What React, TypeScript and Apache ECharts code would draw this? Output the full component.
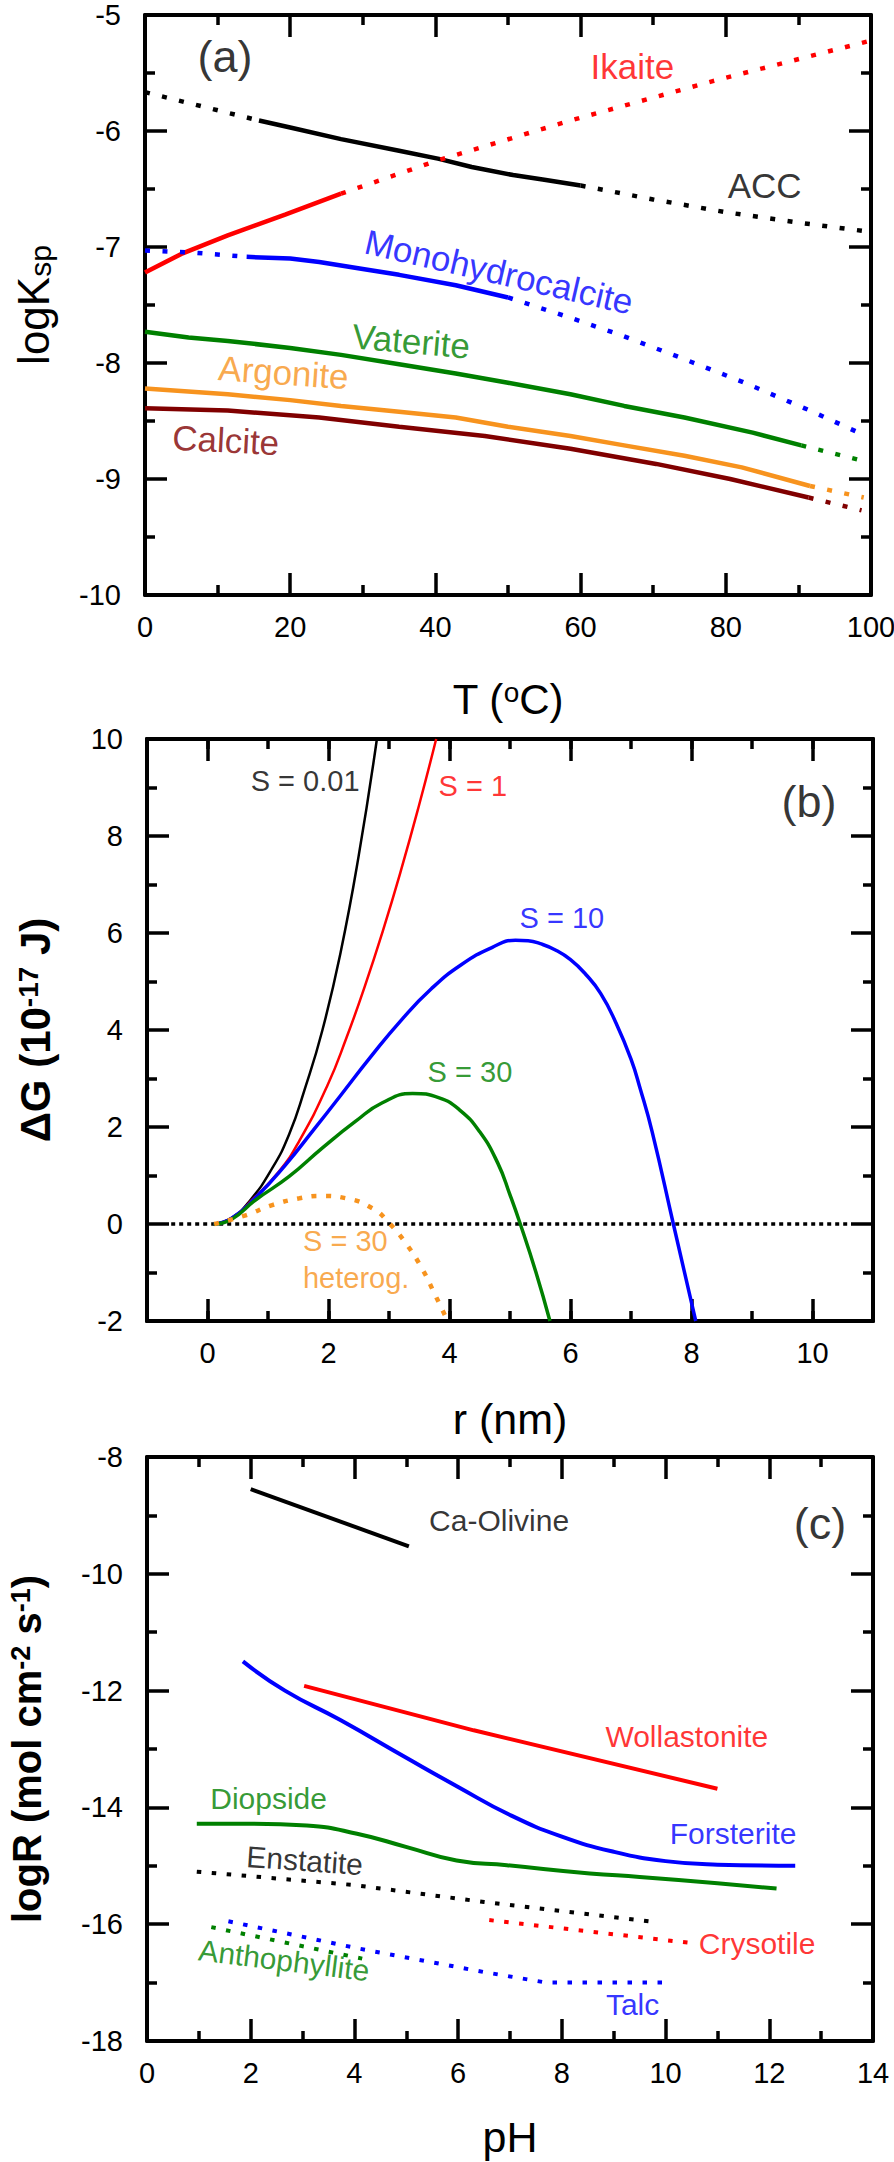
import React, { useEffect, useRef } from "react";
import * as echarts from "echarts";

const FONT = "'Liberation Sans', Arial, Helvetica, sans-serif";
const BLACK = "#000000";
const RED = "#ff0000";
const BLUE = "#0000ff";
const GREEN = "#008000";
const ORANGE = "#f7931e";
const MAROON = "#800000";

// ---------- Panel (a): logKsp vs T (°C) ----------
const aTicksX = [0, 100, 20];
const aTicksY = [-10, -5, 1];
const accDotA = [[0, -5.665], [15.7, -5.91]];
const accSolid = [[15.7, -5.91], [20, -5.97], [27, -6.07], [35, -6.17], [40.5, -6.24], [45, -6.31], [50.7, -6.38], [55, -6.42], [60, -6.47]];
const accDotB = [[60, -6.47], [70, -6.59], [80, -6.7], [90, -6.79], [100, -6.87]];
const ikaiteSolid = [[0, -7.22], [5, -7.06], [11.4, -6.9], [19.3, -6.72], [27, -6.54]];
const ikaiteDot = [[27, -6.54], [40.5, -6.25], [58.6, -5.91], [78.2, -5.57], [100, -5.22]];
const monoDotA = [[0, -7.03], [7, -7.05], [14, -7.085]];
const monoSolid = [[14, -7.085], [20, -7.1], [24, -7.13], [30, -7.19], [35, -7.24], [42.8, -7.33], [50, -7.435]];
const monoDotB = [[50, -7.435], [58.6, -7.61], [66, -7.77], [74, -7.96], [82.2, -8.16], [91.6, -8.41], [99, -8.62]];
const vateriteSolid = [[0, -7.73], [6, -7.78], [11.4, -7.81], [20, -7.87], [27, -7.93], [35, -8.01], [42.8, -8.09], [50, -8.17], [58.6, -8.27], [66, -8.37], [74.3, -8.47], [83.7, -8.6], [90.4, -8.71]];
const vateriteDot = [[90.4, -8.71], [98.7, -8.84]];
const aragoniteSolid = [[0, -8.22], [11.4, -8.27], [20, -8.32], [27, -8.37], [35, -8.42], [42.8, -8.47], [50, -8.55], [58.6, -8.63], [66, -8.71], [74.3, -8.8], [82.2, -8.9], [91.6, -9.06]];
const aragoniteDot = [[91.6, -9.06], [99, -9.16]];
const calciteSolid = [[0, -8.39], [11.4, -8.41], [24, -8.47], [35, -8.55], [46.8, -8.63], [58.6, -8.74], [70.4, -8.87], [80.6, -9.0], [91.4, -9.16]];
const calciteDot = [[91.4, -9.16], [98.7, -9.27]];
const aLabels = [
  { text: "(a)", x: 7.16, y: -5.359, color: BLACK, size: 45, rot: 0 },
  { text: "Ikaite", x: 61.3, y: -5.446, color: RED, rot: 0 },
  { text: "ACC", x: 80.2, y: -6.474, color: BLACK, rot: 0 },
  { text: "Monohydrocalcite", x: 30.3, y: -6.947, color: BLUE, rot: -13 },
  { text: "Vaterite", x: 28.5, y: -7.766, color: GREEN, rot: -5 },
  { text: "Argonite", x: 10.05, y: -8.04, color: ORANGE, rot: -4 },
  { text: "Calcite", x: 3.7, y: -8.64, color: MAROON, rot: -3 },
];

// ---------- Panel (b): ΔG vs r (nm) ----------
const bTicksX = [-1, 11];
const bMajorX = [0, 2, 4, 6, 8, 10];
const bTicksY = [-2, 10, 2];
const zeroLine = [[-0.6, 0], [10.6, 0]];
const gS001 = [[0.1, 0], [0.4, 0.13], [0.7, 0.48], [1.07, 1.15], [1.35, 1.85], [1.6, 2.75], [1.9, 4.0], [2.2, 5.6], [2.5, 7.6], [2.8, 10]];
const gS1 = [[0.1, 0], [0.4, 0.12], [0.74, 0.5], [1.18, 1.08], [1.52, 1.72], [1.98, 2.85], [2.3, 3.85], [2.6, 4.9], [2.9, 6.05], [3.2, 7.3], [3.5, 8.65], [3.78, 10]];
const gS10 = [[0.1, 0], [0.4, 0.12], [0.8, 0.55], [1.29, 1.22], [1.74, 1.92], [2.2, 2.65], [2.7, 3.45], [3.2, 4.2], [3.7, 4.85], [4.2, 5.35], [4.7, 5.7], [5.09, 5.85], [5.3, 5.84], [5.5, 5.78], [5.75, 5.65], [6.0, 5.45], [6.25, 5.15], [6.5, 4.75], [6.75, 4.15], [7.0, 3.4], [7.15, 2.8], [7.35, 1.9], [7.7, 0], [8.07, -2]];
const gS30 = [[0.1, 0], [0.4, 0.1], [0.8, 0.5], [1.35, 0.98], [1.9, 1.57], [2.45, 2.12], [2.89, 2.5], [3.39, 2.69], [3.83, 2.6], [4.16, 2.36], [4.5, 1.9], [4.8, 1.25], [5.0, 0.6], [5.17, 0], [5.43, -1.0], [5.66, -2]];
const gS30het = [[0.11, 0], [0.63, 0.18], [1.07, 0.39], [1.52, 0.53], [1.88, 0.58], [2.29, 0.53], [2.73, 0.32], [2.98, 0.05], [3.28, -0.4], [3.56, -0.95], [3.75, -1.43], [3.97, -2]];
const bLabels = [
  { text: "S = 0.01", x: 0.706, y: 9.14, color: BLACK, rot: 0 },
  { text: "S = 1", x: 3.81, y: 9.03, color: RED, rot: 0 },
  { text: "(b)", x: 9.48, y: 8.72, color: BLACK, size: 45, rot: 0 },
  { text: "S = 10", x: 5.15, y: 6.31, color: BLUE, rot: 0 },
  { text: "S = 30", x: 3.63, y: 3.14, color: GREEN, rot: 0 },
  { text: "S = 30", x: 1.57, y: -0.35, color: ORANGE, rot: 0 },
  { text: "heterog.", x: 1.57, y: -1.11, color: ORANGE, rot: 0 },
];

// ---------- Panel (c): logR vs pH ----------
const cTicksX = [0, 14, 2];
const cTicksY = [-18, -8, 2];
const caOlivine = [[2, -8.55], [5.05, -9.53]];
const forsterite = [[1.85, -11.5], [2.66, -12.0], [3.72, -12.5], [5.0, -13.15], [6.0, -13.65], [7.0, -14.13], [8.0, -14.5], [9.0, -14.76], [10.0, -14.92], [11.0, -14.98], [12.5, -15.0]];
const wollastonite = [[3.03, -11.92], [6.3, -12.68], [11.0, -13.68]];
const diopside = [[0.96, -14.28], [2.0, -14.28], [3.08, -14.31], [4.05, -14.45], [5.01, -14.68], [5.97, -14.91], [6.94, -14.99], [8.54, -15.13], [9.5, -15.19], [11.0, -15.3], [12.14, -15.39]];
const enstatite = [[0.96, -15.1], [4.0, -15.33], [6.5, -15.62], [9.86, -15.97]];
const crysotile = [[6.6, -15.93], [10.47, -16.32]];
const talc = [[1.57, -15.95], [4.1, -16.42], [6.5, -16.82], [7.7, -17.0], [10.0, -17.0]];
const anthophyllite = [[1.24, -16.05], [4.15, -16.59]];
const cLabels = [
  { text: "Ca-Olivine", x: 5.43, y: -9.09, color: BLACK, rot: 0 },
  { text: "(c)", x: 12.46, y: -9.136, color: BLACK, size: 45, rot: 0 },
  { text: "Wollastonite", x: 8.83, y: -12.78, color: RED, rot: 0 },
  { text: "Forsterite", x: 10.07, y: -14.44, color: BLUE, rot: 0 },
  { text: "Diopside", x: 1.21, y: -13.84, color: GREEN, rot: 0 },
  { text: "Enstatite", x: 1.91, y: -14.84, color: BLACK, rot: -4 },
  { text: "Crysotile", x: 10.63, y: -16.33, color: RED, rot: 0 },
  { text: "Talc", x: 8.84, y: -17.38, color: BLUE, rot: 0 },
  { text: "Anthophyllite", x: 0.99, y: -16.44, color: GREEN, rot: -7 },
];

// ---------- layout ----------
const GA = { left: 145, top: 15, width: 726, height: 580 };
const GB = { left: 147, top: 739, width: 726, height: 582 };
const GC = { left: 147, top: 1457, width: 726, height: 584 };

const TICK_FONT = 29;
const LINE = { color: BLACK, width: 4 };
const TICKLINE = { color: BLACK, width: 3.5 };

function axis(o: any) {
  const showLabel = !!o.label;
  const ax: any = {
    type: "value",
    gridIndex: o.grid,
    position: o.position,
    min: o.min,
    max: o.max,
    axisLine: { show: true, onZero: false, lineStyle: LINE },
    axisTick: { show: true, inside: true, length: o.tickLen ?? 22, lineStyle: TICKLINE },
    minorTick: { show: o.minor !== false, splitNumber: 2, length: 10, lineStyle: TICKLINE },
    splitLine: { show: false },
    minorSplitLine: { show: false },
    axisLabel: {
      show: showLabel,
      fontSize: TICK_FONT,
      fontFamily: FONT,
      color: BLACK,
      margin: o.margin ?? 22,
      lineHeight: 20,
    },
  };
  if (o.interval != null) ax.interval = o.interval;
  if (o.customTicks) ax.axisTick.customValues = o.customTicks;
  if (o.formatter) ax.axisLabel.formatter = o.formatter;
  return ax;
}

function seg(data: number[][], color: string, width: number, dash: any, xi: number, yi: number, smooth = false) {
  return {
    type: "line",
    data,
    xAxisIndex: xi,
    yAxisIndex: yi,
    symbol: "none",
    smooth,
    silent: true,
    z: 3,
    lineStyle: { color, width, type: dash || "solid", cap: "butt" },
  };
}

function labelSeries(items: any[], xi: number, yi: number, size: number) {
  return {
    type: "scatter",
    xAxisIndex: xi,
    yAxisIndex: yi,
    symbolSize: 1,
    silent: true,
    z: 10,
    itemStyle: { color: "rgba(0,0,0,0)" },
    label: {
      show: true,
      position: "right",
      distance: 0,
      formatter: "{b}",
      fontFamily: FONT,
      fontSize: size,
      align: "left",
      verticalAlign: "middle",
    },
    data: items.map((it) => ({
      name: it.text,
      value: [it.x, it.y],
      label: { color: it.color, rotate: it.rot || 0, fontSize: it.size || size },
    })),
  };
}

function title(text: string, x: number, y: number, size: number, rotate: boolean, bold: boolean, rich: any) {
  return {
    type: "text",
    x,
    y,
    rotation: rotate ? Math.PI / 2 : 0,
    silent: true,
    style: {
      text,
      fontSize: size,
      fontFamily: FONT,
      fontWeight: bold ? "bold" : "normal",
      fill: BLACK,
      align: "center",
      verticalAlign: "middle",
      lineHeight: size,
      rich,
    },
  };
}

export default function App() {
  const ref = useRef<HTMLDivElement>(null);
  useEffect(() => {
    document.body.style.margin = "0";
    if (!ref.current) return;
    const chart = echarts.init(ref.current, undefined, { renderer: "svg" });

    const DOT_A = [5, 12.5];
    const DOT_B = [5, 9.5];
    const DOT_C = [4.5, 10.5];
    const ZERO = [4, 4];

    const sup = (fs: number, bold: boolean) => ({ fontSize: fs, lineHeight: 20, verticalAlign: "top", fontFamily: FONT, fontWeight: bold ? "bold" : "normal", fill: BLACK });

    const option: any = {
      animation: false,
      backgroundColor: "#ffffff",
      grid: [
        { ...GA, containLabel: false, outerBoundsMode: "none" },
        { ...GB, containLabel: false, outerBoundsMode: "none" },
        { ...GC, containLabel: false, outerBoundsMode: "none" },
      ],
      xAxis: [
        axis({ grid: 0, position: "bottom", min: aTicksX[0], max: aTicksX[1], interval: aTicksX[2], label: true }),
        axis({ grid: 0, position: "top", min: aTicksX[0], max: aTicksX[1], interval: aTicksX[2] }),
        axis({ grid: 1, position: "bottom", min: bTicksX[0], max: bTicksX[1], interval: 1, tickLen: 10, minor: false, label: true, formatter: (v: number) => (Math.round(v) % 2 === 0 ? String(Math.round(v)) : "") }),
        axis({ grid: 1, position: "bottom", min: bTicksX[0], max: bTicksX[1], interval: 1, minor: false, customTicks: bMajorX }),
        axis({ grid: 1, position: "top", min: bTicksX[0], max: bTicksX[1], interval: 1, tickLen: 10, minor: false }),
        axis({ grid: 1, position: "top", min: bTicksX[0], max: bTicksX[1], interval: 1, minor: false, customTicks: bMajorX }),
        axis({ grid: 2, position: "bottom", min: cTicksX[0], max: cTicksX[1], interval: cTicksX[2], label: true }),
        axis({ grid: 2, position: "top", min: cTicksX[0], max: cTicksX[1], interval: cTicksX[2] }),
      ],
      yAxis: [
        axis({ grid: 0, position: "left", min: aTicksY[0], max: aTicksY[1], interval: aTicksY[2], label: true, margin: 24 }),
        axis({ grid: 0, position: "right", min: aTicksY[0], max: aTicksY[1], interval: aTicksY[2] }),
        axis({ grid: 1, position: "left", min: bTicksY[0], max: bTicksY[1], interval: bTicksY[2], label: true, margin: 24 }),
        axis({ grid: 1, position: "right", min: bTicksY[0], max: bTicksY[1], interval: bTicksY[2] }),
        axis({ grid: 2, position: "left", min: cTicksY[0], max: cTicksY[1], interval: cTicksY[2], label: true, margin: 24 }),
        axis({ grid: 2, position: "right", min: cTicksY[0], max: cTicksY[1], interval: cTicksY[2] }),
      ],
      series: [
        // panel a
        seg(accDotA, BLACK, 4.5, DOT_A, 0, 0),
        seg(accSolid, BLACK, 4.5, null, 0, 0),
        seg(accDotB, BLACK, 4.5, DOT_A, 0, 0),
        seg(ikaiteSolid, RED, 4.5, null, 0, 0),
        seg(ikaiteDot, RED, 4.5, DOT_A, 0, 0),
        seg(monoDotA, BLUE, 4.5, DOT_A, 0, 0),
        seg(monoSolid, BLUE, 4.5, null, 0, 0),
        seg(monoDotB, BLUE, 4.5, DOT_A, 0, 0),
        seg(vateriteSolid, GREEN, 4.5, null, 0, 0),
        seg(vateriteDot, GREEN, 4.5, DOT_A, 0, 0),
        seg(aragoniteSolid, ORANGE, 4.5, null, 0, 0),
        seg(aragoniteDot, ORANGE, 4.5, DOT_A, 0, 0),
        seg(calciteSolid, MAROON, 4.5, null, 0, 0),
        seg(calciteDot, MAROON, 4.5, DOT_A, 0, 0),
        labelSeries(aLabels, 0, 0, 35),
        // panel b
        seg(zeroLine, BLACK, 3.5, ZERO, 2, 2),
        seg(gS001, BLACK, 2.5, null, 2, 2, true),
        seg(gS1, RED, 2.5, null, 2, 2, true),
        seg(gS10, BLUE, 3.5, null, 2, 2, true),
        seg(gS30, GREEN, 3.5, null, 2, 2, true),
        seg(gS30het, ORANGE, 4.5, DOT_B, 2, 2, true),
        labelSeries(bLabels, 2, 2, 29),
        // panel c
        seg(caOlivine, BLACK, 4, null, 6, 4),
        seg(forsterite, BLUE, 4, null, 6, 4, true),
        seg(wollastonite, RED, 4, null, 6, 4),
        seg(diopside, GREEN, 4, null, 6, 4, true),
        seg(enstatite, BLACK, 4, DOT_C, 6, 4),
        seg(crysotile, RED, 4, DOT_C, 6, 4),
        seg(talc, BLUE, 4, DOT_C, 6, 4),
        seg(anthophyllite, GREEN, 4, DOT_C, 6, 4),
        labelSeries(cLabels, 6, 4, 30),
      ],
      graphic: [
        title("T ({s|o}C)", GA.left + GA.width / 2, 699, 42, false, false, { s: sup(28, false) }),
        title("logK{b|sp}", 33, GA.top + GA.height / 2, 44, true, false, {
          b: { fontSize: 30, lineHeight: 12, verticalAlign: "bottom", fontFamily: FONT, fill: BLACK },
        }),
        title("r (nm)", GB.left + GB.width / 2, 1419, 43, false, false, {}),
        title("ΔG (10{s|-17} J)", 35, GB.top + GB.height / 2, 42, true, true, { s: sup(28, true) }),
        title("pH", GC.left + GC.width / 2, 2137, 43, false, false, {}),
        title("logR (mol cm{s|-2} s{s|-1})", 27, GC.top + GC.height / 2, 40, true, true, { s: sup(27, true) }),
      ],
    };

    chart.setOption(option);
    return () => {
      chart.dispose();
    };
  }, []);
  return <div ref={ref} style={{ width: 894, height: 2162 }} />;
}
